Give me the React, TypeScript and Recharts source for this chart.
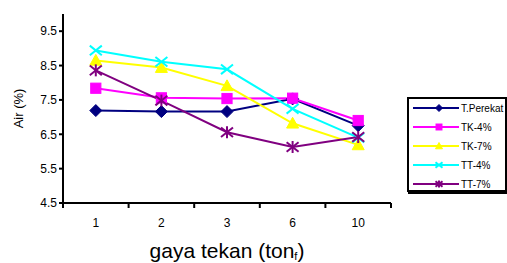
import React from 'react';
import { LineChart, Line, XAxis, YAxis } from 'recharts';

// gaya tekan categories
const categories = ['1', '2', '3', '6', '10'];

// Air (%) per series
const tPerekat = [7.19, 7.16, 7.16, 7.53, 6.75];
const tk4 = [7.84, 7.56, 7.54, 7.55, 6.9];
const tk7 = [8.65, 8.44, 7.91, 6.82, 6.19];
const tt4 = [8.94, 8.61, 8.39, 7.24, 6.4];
const tt7 = [8.36, 7.48, 6.56, 6.13, 6.42];

const yTicks = [4.5, 5.5, 6.5, 7.5, 8.5, 9.5];

type MarkerKind = 'diamond' | 'square' | 'triangle' | 'x' | 'star';

const series: { key: string; name: string; color: string; marker: MarkerKind; values: number[] }[] = [
    { key: 'tPerekat', name: 'T.Perekat', color: '#000080', marker: 'diamond', values: tPerekat },
    { key: 'tk4', name: 'TK-4%', color: '#FF00FF', marker: 'square', values: tk4 },
    { key: 'tk7', name: 'TK-7%', color: '#FFFF00', marker: 'triangle', values: tk7 },
    { key: 'tt4', name: 'TT-4%', color: '#00FFFF', marker: 'x', values: tt4 },
    { key: 'tt7', name: 'TT-7%', color: '#800080', marker: 'star', values: tt7 },
];

const data = categories.map((c, i) => {
    const row: any = { pos: i + 0.5, gaya: c };
    series.forEach(s => { row[s.key] = s.values[i]; });
    return row;
});

// tick positions on numeric axis: integers = boundary ticks, halves = labels
const xTicks: number[] = [];
for (let i = 0; i <= categories.length * 2; i++) xTicks.push(i / 2);

const FONT = '"Liberation Sans", Arial, sans-serif';

const Marker = ({ cx, cy, kind, color, r }: { cx: number; cy: number; kind: MarkerKind; color: string; r: number }) => {
    if (cx == null || cy == null) return null;
    switch (kind) {
        case 'diamond':
            return <path d={`M${cx},${cy - r} L${cx + r},${cy} L${cx},${cy + r} L${cx - r},${cy} Z`} fill={color} stroke={color} />;
        case 'square':
            return <rect x={cx - r * 0.85} y={cy - r * 0.85} width={r * 1.7} height={r * 1.7} fill={color} stroke={color} />;
        case 'triangle':
            return <path d={`M${cx},${cy - r} L${cx + r},${cy + r * 0.8} L${cx - r},${cy + r * 0.8} Z`} fill={color} stroke={color} />;
        case 'x':
            return (
                <g stroke={color} strokeWidth={2}>
                    <line x1={cx - r} y1={cy - r * 0.8} x2={cx + r} y2={cy + r * 0.8} />
                    <line x1={cx - r} y1={cy + r * 0.8} x2={cx + r} y2={cy - r * 0.8} />
                </g>
            );
        case 'star':
            return (
                <g stroke={color} strokeWidth={2}>
                    <line x1={cx - r} y1={cy - r * 0.8} x2={cx + r} y2={cy + r * 0.8} />
                    <line x1={cx - r} y1={cy + r * 0.8} x2={cx + r} y2={cy - r * 0.8} />
                    <line x1={cx} y1={cy - r} x2={cx} y2={cy + r} />
                </g>
            );
    }
    return null;
};

const XTick = (props: any) => {
    const { x, y, payload } = props;
    const v = payload.value;
    if (Number.isInteger(v)) {
        return <line x1={x} y1={y - 5} x2={x} y2={y} stroke="#000" strokeWidth={2} />;
    }
    const idx = Math.floor(v);
    return (
        <text x={x} y={y + 19} textAnchor="middle" fontSize={12} fontFamily={FONT} fill="#000">
            {categories[idx]}
        </text>
    );
};

const XTitle = (props: any) => {
    const vb = props.viewBox;
    return (
        <text x={vb.x + vb.width / 2} y={258} textAnchor="middle" fontSize={21} fontFamily={FONT} fill="#000">
            gaya tekan (ton<tspan fontSize={11} dy={2}>f</tspan><tspan dy={-2}>)</tspan>
        </text>
    );
};

const YTitle = (props: any) => {
    const vb = props.viewBox;
    const cx = vb.x + 18;
    const cy = vb.y + vb.height / 2;
    return (
        <text x={cx} y={cy} transform={`rotate(-90 ${cx} ${cy})`} textAnchor="middle" dominantBaseline="central" fontSize={13} fontFamily={FONT} fill="#000">
            Air (%)
        </text>
    );
};

const LegendBox = () => (
    <div style={{
        position: 'absolute', left: 407, top: 97, width: 96, height: 91,
        border: '2px solid #000', boxShadow: '1px 2px 0 #000', background: '#fff',
        fontFamily: FONT, fontSize: 10, boxSizing: 'content-box',
    }}>
        {series.map((s, i) => (
            <div key={s.key} style={{ position: 'absolute', left: 4, top: 3 + i * 19, height: 12, display: 'flex', alignItems: 'center', whiteSpace: 'nowrap' }}>
                <svg width={46} height={12} style={{ display: 'block' }}>
                    <line x1={0} y1={6} x2={46} y2={6} stroke={s.color} strokeWidth={2} />
                    <Marker cx={26} cy={6} kind={s.marker} color={s.color} r={3.5} />
                </svg>
                <span style={{ marginLeft: 2, color: '#000' }}>{s.name}</span>
            </div>
        ))}
    </div>
);

export default function App() {
    return (
        <div style={{ position: 'absolute', left: 0, top: 0, width: 507, height: 263, background: '#fff', overflow: 'hidden' }}>
            <LineChart width={507} height={263} data={data} margin={{ top: 14, right: 116, bottom: 0, left: 0 }}>
                <XAxis
                    dataKey="pos"
                    type="number"
                    domain={[0, categories.length]}
                    ticks={xTicks}
                    interval={0}
                    tick={<XTick />}
                    tickLine={false}
                    tickSize={5}
                    tickMargin={0}
                    height={60}
                    axisLine={{ stroke: '#000', strokeWidth: 2 }}
                    label={<XTitle />}
                />
                <YAxis
                    domain={[4.5, 10]}
                    ticks={yTicks}
                    width={63}
                    allowDataOverflow
                    tickSize={4}
                    tickMargin={2}
                    tickLine={{ stroke: '#000', strokeWidth: 2 }}
                    axisLine={{ stroke: '#000', strokeWidth: 2 }}
                    tick={{ fill: '#000', fontSize: 12, fontFamily: FONT }}
                    tickFormatter={(v: number) => v.toFixed(1)}
                    label={<YTitle />}
                />
                {series.map(s => (
                    <Line
                        key={s.key}
                        dataKey={s.key}
                        name={s.name}
                        stroke={s.color}
                        strokeWidth={2}
                        isAnimationActive={false}
                        dot={(p: any) => <Marker key={`${s.key}-${p.index}`} cx={p.cx} cy={p.cy} kind={s.marker} color={s.color} r={6} />}
                        activeDot={false}
                    />
                ))}
            </LineChart>
            <LegendBox />
        </div>
    );
}
